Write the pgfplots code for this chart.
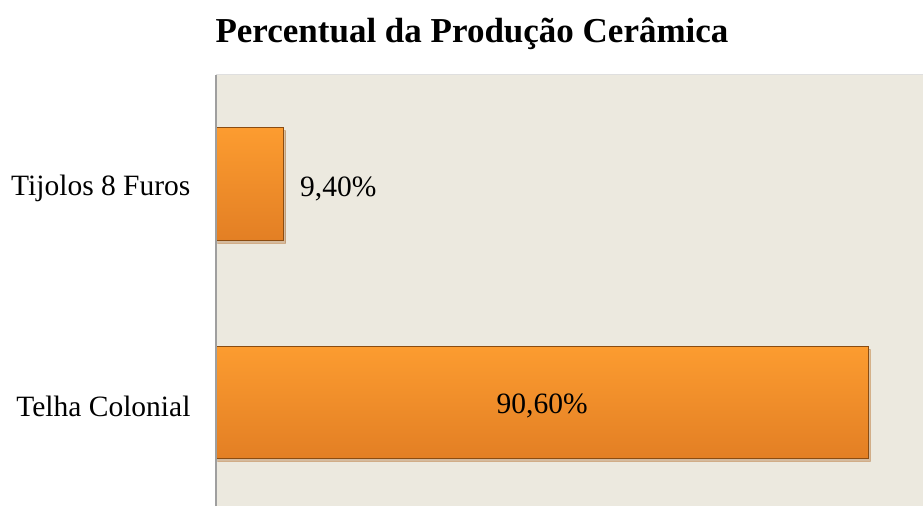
\documentclass[border=0pt]{standalone}
\usepackage{fontspec}
\setmainfont{Liberation Serif}
\usepackage{pgfplots}
\pgfplotsset{compat=1.18}
\usetikzlibrary{shadows}
\definecolor{bgc}{HTML}{ECE9DF}
\definecolor{bartop}{HTML}{FC9C30}
\definecolor{barbot}{HTML}{E37F24}
\definecolor{baredge}{HTML}{8A4C12}
\begin{document}
\begin{tikzpicture}
\begin{axis}[
  at={(0,0)}, anchor=south west,
  scale only axis, width=707pt, height=431pt,
  xmin=0, xmax=98.2, ymin=-0.477, ymax=1.5,
  axis line style={draw=none},
  axis background/.style={fill=bgc},
  xtick=\empty,
  ytick={0,1}, yticklabels={Telha Colonial,Tijolos 8 Furos},
  major tick length=0pt,
  yticklabel style={font=\fontsize{29.5}{32}\selectfont, xshift=-22pt, yshift=-4pt},
  clip=false,
  mybar/.style={xbar, bar width=112pt, bar shift=0pt, draw=baredge, line width=1pt,
    top color=bartop, bottom color=barbot,
    drop shadow={shadow xshift=2pt, shadow yshift=-3pt, opacity=0.25}},
]
\addplot[mybar] coordinates {(90.6,0)};
\addplot[mybar] coordinates {(9.4,1)};
\addplot[draw=none, mark=none, nodes near coords, point meta=explicit symbolic,
  every node near coord/.append style={anchor=west, xshift=13pt, yshift=-5pt, font=\fontsize{29.5}{32}\selectfont}]
  coordinates {(9.4,1) [9,40\%]};
\addplot[draw=none, mark=none, nodes near coords, point meta=explicit symbolic,
  every node near coord/.append style={anchor=center, yshift=-4pt, font=\fontsize{29.5}{32}\selectfont}]
  coordinates {(45.3,0) [90,60\%]};
\end{axis}
\draw[gray!75, line width=1.5pt] (0,0) -- (0,431pt);
\draw[gray!25, line width=1pt] (0,431pt) -- (707pt,431pt);
\node[font=\bfseries\fontsize{35}{40}\selectfont] at (256pt,472pt) {Percentual da Produção Cerâmica};
\pgfresetboundingbox
\path[use as bounding box] (-216pt,0) rectangle (707pt,506pt);
\end{tikzpicture}
\end{document}
